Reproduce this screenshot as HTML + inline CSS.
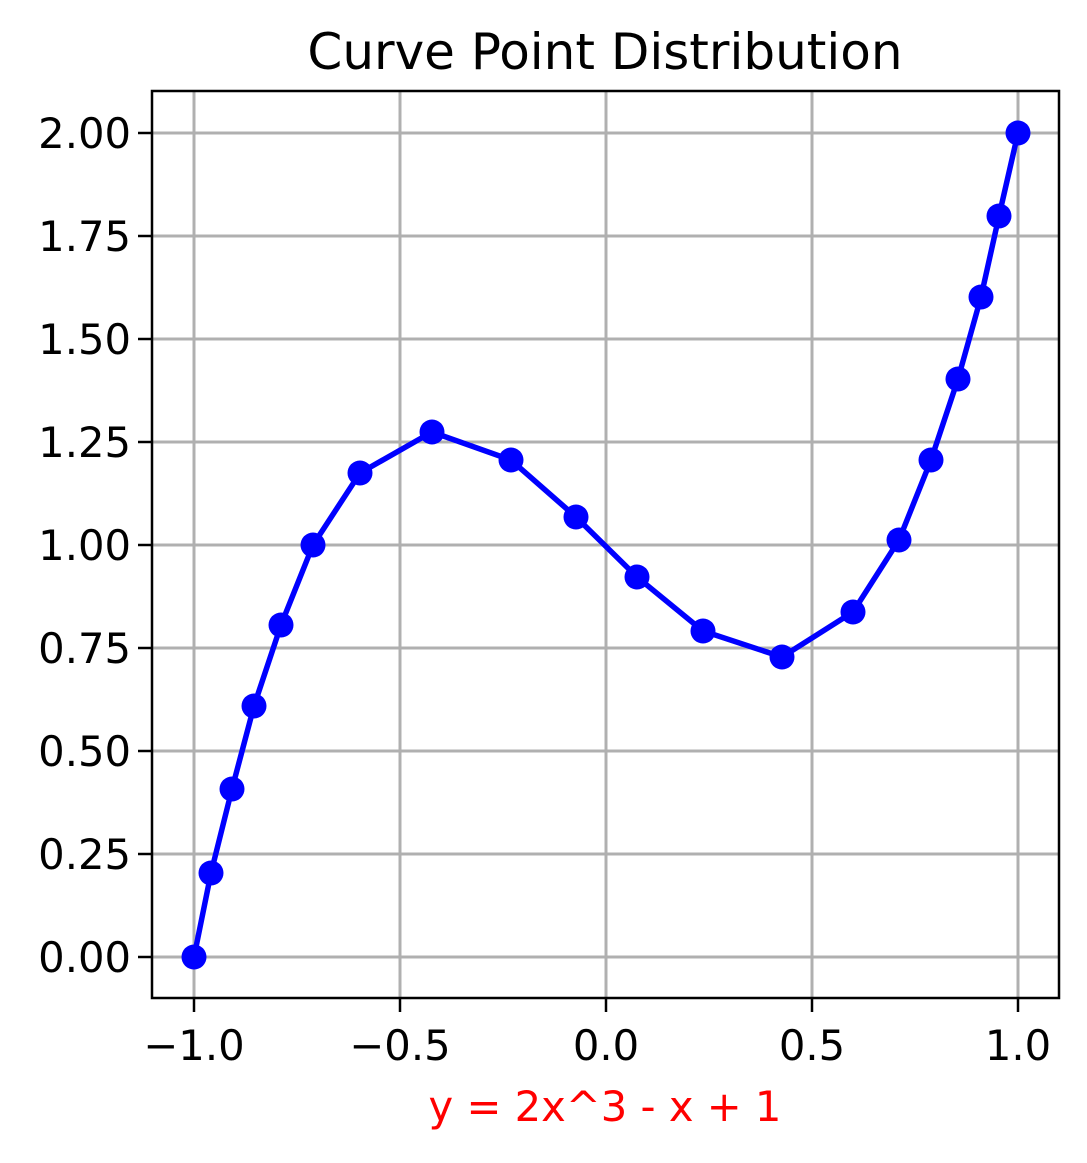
<!DOCTYPE html>
<html><head><meta charset="utf-8"><style>body{margin:0;background:#fff}</style></head><body>
<svg width="1087" height="1158" xmlns="http://www.w3.org/2000/svg" font-family="DejaVu Sans, sans-serif">
<rect width="1087" height="1158" fill="#fff"/>
<g stroke="#b0b0b0" stroke-width="3">
<line x1="194" y1="91" x2="194" y2="998"/><line x1="400" y1="91" x2="400" y2="998"/><line x1="606" y1="91" x2="606" y2="998"/><line x1="812" y1="91" x2="812" y2="998"/><line x1="1018" y1="91" x2="1018" y2="998"/>
<line x1="152" y1="957" x2="1059" y2="957"/><line x1="152" y1="854" x2="1059" y2="854"/><line x1="152" y1="751" x2="1059" y2="751"/><line x1="152" y1="648" x2="1059" y2="648"/><line x1="152" y1="545" x2="1059" y2="545"/><line x1="152" y1="442" x2="1059" y2="442"/><line x1="152" y1="339" x2="1059" y2="339"/><line x1="152" y1="236" x2="1059" y2="236"/><line x1="152" y1="133" x2="1059" y2="133"/>
</g>
<polyline fill="none" stroke="#0000ff" stroke-width="5.5" points="194,957 211,873 232,789 254,706 281,625 313,545 360,473 432,432 511,460 576,517 637,577 703,631 782,657 853,612 899,540 931,460 958,379 981,297 999,216 1018,133"/>
<g fill="#0000ff">
<circle cx="194" cy="957" r="12.5"/><circle cx="211" cy="873" r="12.5"/><circle cx="232" cy="789" r="12.5"/><circle cx="254" cy="706" r="12.5"/><circle cx="281" cy="625" r="12.5"/><circle cx="313" cy="545" r="12.5"/><circle cx="360" cy="473" r="12.5"/><circle cx="432" cy="432" r="12.5"/><circle cx="511" cy="460" r="12.5"/><circle cx="576" cy="517" r="12.5"/><circle cx="637" cy="577" r="12.5"/><circle cx="703" cy="631" r="12.5"/><circle cx="782" cy="657" r="12.5"/><circle cx="853" cy="612" r="12.5"/><circle cx="899" cy="540" r="12.5"/><circle cx="931" cy="460" r="12.5"/><circle cx="958" cy="379" r="12.5"/><circle cx="981" cy="297" r="12.5"/><circle cx="999" cy="216" r="12.5"/><circle cx="1018" cy="133" r="12.5"/>
</g>
<rect x="152" y="91" width="907" height="907" fill="none" stroke="#000" stroke-width="2.5"/>
<g stroke="#000" stroke-width="2.5">
<line x1="194" y1="998" x2="194" y2="1012"/><line x1="400" y1="998" x2="400" y2="1012"/><line x1="606" y1="998" x2="606" y2="1012"/><line x1="812" y1="998" x2="812" y2="1012"/><line x1="1018" y1="998" x2="1018" y2="1012"/>
<line x1="138" y1="957" x2="152" y2="957"/><line x1="138" y1="854" x2="152" y2="854"/><line x1="138" y1="751" x2="152" y2="751"/><line x1="138" y1="648" x2="152" y2="648"/><line x1="138" y1="545" x2="152" y2="545"/><line x1="138" y1="442" x2="152" y2="442"/><line x1="138" y1="339" x2="152" y2="339"/><line x1="138" y1="236" x2="152" y2="236"/><line x1="138" y1="133" x2="152" y2="133"/>
</g>
<g font-size="41.7" fill="#000" text-anchor="middle">
<text x="194" y="1060">−1.0</text><text x="400" y="1060">−0.5</text><text x="606" y="1060">0.0</text><text x="812" y="1060">0.5</text><text x="1018" y="1060">1.0</text>
</g>
<g font-size="41.7" fill="#000" text-anchor="end">
<text x="131" y="972">0.00</text><text x="131" y="869">0.25</text><text x="131" y="766">0.50</text><text x="131" y="663">0.75</text><text x="131" y="560">1.00</text><text x="131" y="457">1.25</text><text x="131" y="354">1.50</text><text x="131" y="251">1.75</text><text x="131" y="148">2.00</text>
</g>
<text x="605" y="69" font-size="50" text-anchor="middle" fill="#000">Curve Point Distribution</text>
<text x="605" y="1121" font-size="41.7" text-anchor="middle" fill="#ff0000">y = 2x^3 - x + 1</text>
</svg>
</body></html>
